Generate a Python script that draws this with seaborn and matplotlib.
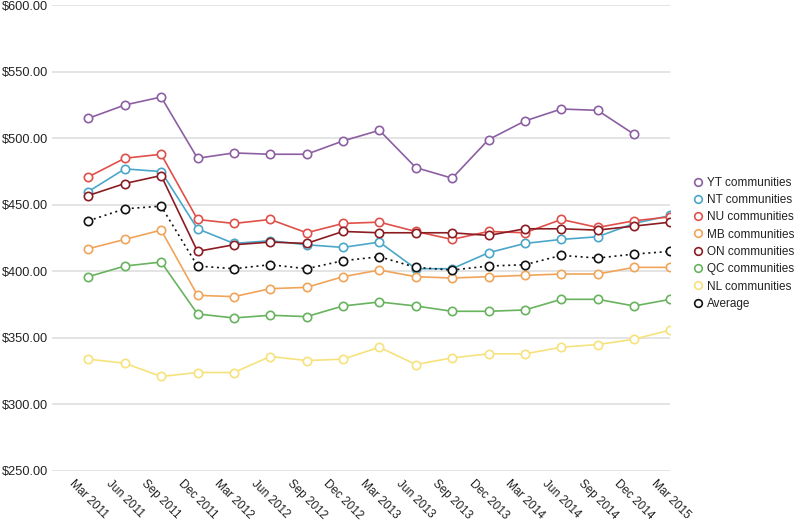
import numpy as np
import pandas as pd
import matplotlib
matplotlib.use("Agg")
import matplotlib.pyplot as plt
from matplotlib.lines import Line2D
import seaborn as sns

quarters = ["Mar 2011", "Jun 2011", "Sep 2011", "Dec 2011", "Mar 2012", "Jun 2012",
            "Sep 2012", "Dec 2012", "Mar 2013", "Jun 2013", "Sep 2013", "Dec 2013",
            "Mar 2014", "Jun 2014", "Sep 2014", "Dec 2014", "Mar 2015"]

yt = [515, 525, 531, 485, 489, 488, 488, 498, 506, 478, 470, 499, 513, 522, 521, 503, np.nan]
nt = [460, 477, 475, 432, 421, 423, 420, 418, 422, 402, 402, 414, 421, 424, 426, 436, 442]
nu = [471, 485, 488, 439, 436, 439, 429, 436, 437, 430, 424, 430, 429, 439, 433, 438, 441]
mb = [417, 424, 431, 382, 381, 387, 388, 396, 401, 396, 395, 396, 397, 398, 398, 403, 403]
on = [457, 466, 472, 415, 420, 422, 421, 430, 429, 429, 429, 427, 432, 432, 431, 434, 437]
qc = [396, 404, 407, 368, 365, 367, 366, 374, 377, 374, 370, 370, 371, 379, 379, 374, 379]
nl = [334, 331, 321, 324, 324, 336, 333, 334, 343, 330, 335, 338, 338, 343, 345, 349, 356]
avg = [438, 447, 449, 404, 402, 405, 402, 408, 411, 403, 401, 404, 405, 412, 410, 413, 415]

series = [
    ("YT communities", yt, "#8c5fa3", "-"),
    ("NT communities", nt, "#4ba7c9", "-"),
    ("NU communities", nu, "#e0504a", "-"),
    ("MB communities", mb, "#f0a45a", "-"),
    ("ON communities", on, "#8a1c22", "-"),
    ("QC communities", qc, "#68b35e", "-"),
    ("NL communities", nl, "#f6e27c", "-"),
    ("Average", avg, "#111111", (0, (1.2, 2.2))),
]

sns.set_theme(style="white")
plt.rcParams["font.family"] = ["Liberation Sans", "DejaVu Sans"]

fig = plt.figure(figsize=(8, 5.21), dpi=100)
ax = fig.add_axes([0.065, 0.096, 0.773, 0.894])

x = np.arange(len(quarters))
handles = []
for name, vals, color, ls in series:
    df = pd.DataFrame({"x": x, "y": vals})
    sns.lineplot(data=df, x="x", y="y", ax=ax, color=color, linestyle=ls,
                 linewidth=1.2, marker="o", markersize=6, markerfacecolor="white",
                 markeredgecolor=color, markeredgewidth=1.2, legend=False)
    handles.append(Line2D([], [], linestyle="none", marker="o", markersize=5.5,
                          markerfacecolor="white", markeredgecolor=color,
                          markeredgewidth=1.2, label=name))

ax.set_xlim(-1, 16)
ax.set_ylim(250, 600)
ax.set_yticks(np.arange(250, 601, 50))
ax.set_yticklabels([f"${v:.2f}" for v in np.arange(250, 601, 50)])
ax.set_xticks(x)
ax.set_xticklabels(quarters, rotation=-45, ha="center")
ax.set_xlabel("")
ax.set_ylabel("")
ax.grid(axis="y", color="#e4e4e4", linewidth=1.4)
for s in ax.spines.values():
    s.set_visible(False)
ax.tick_params(axis="y", length=0, pad=3, labelsize=9.2, labelcolor="#222222")
ax.tick_params(axis="x", length=2, width=0.8, color="#999999", pad=3,
               labelsize=8.5, labelcolor="#222222")

fig.legend(handles=handles, loc="upper left", bbox_to_anchor=(0.862, 0.67),
           frameon=False, fontsize=8.5, handlelength=0.6, handletextpad=0.5,
           labelspacing=0.45, borderaxespad=0, labelcolor="#222222")

fig.savefig("out.png", dpi=100)
